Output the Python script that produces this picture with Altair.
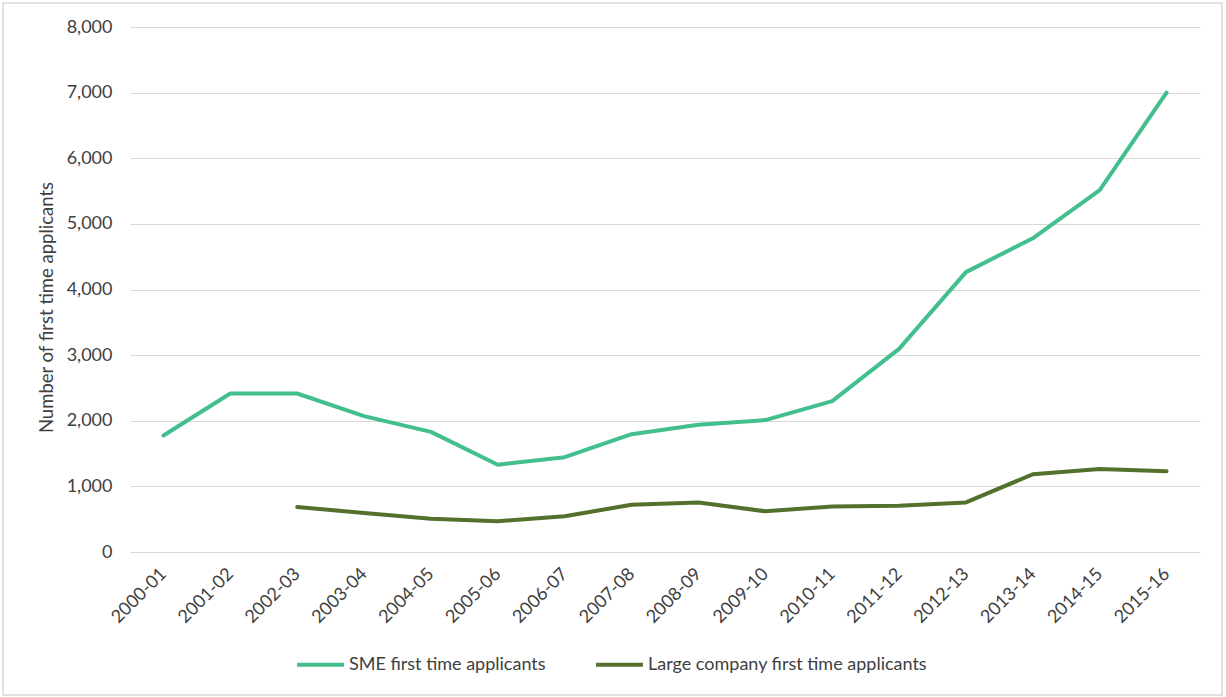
import altair as alt
import pandas as pd

# Financial years on the x axis
years = [
    "2000-01", "2001-02", "2002-03", "2003-04", "2004-05", "2005-06",
    "2006-07", "2007-08", "2008-09", "2009-10", "2010-11", "2011-12",
    "2012-13", "2013-14", "2014-15", "2015-16",
]

# First time applicants per year (None = no figure for that year)
sme_applicants = [1775, 2415, 2415, 2070, 1830, 1330, 1445, 1795,
                  1940, 2010, 2300, 3095, 4265, 4780, 5515, 7000]
large_applicants = [None, None, 685, 595, 505, 470, 545, 720,
                    755, 620, 695, 705, 755, 1185, 1265, 1230]

series_names = ["SME first time applicants", "Large company first time applicants"]
series_colors = ["#42BF8C", "#53702C"]
y_ticks = [0, 1000, 2000, 3000, 4000, 5000, 6000, 7000, 8000]

rows = []
for name, values in zip(series_names, [sme_applicants, large_applicants]):
    for yr, v in zip(years, values):
        if v is not None:
            rows.append({"year": yr, "series": name, "value": v})
df = pd.DataFrame(rows)

FONT = "Lato"
TEXT = "#404040"

lines = alt.Chart(df).mark_line(strokeWidth=4, strokeCap="round", strokeJoin="round").encode(
    x=alt.X(
        "year:O",
        sort=years,
        scale=alt.Scale(type="point", padding=0.5, domain=years),
        axis=alt.Axis(
            title=None, labelAngle=-45, labelAlign="right", labelBaseline="middle",
            labelPadding=19, ticks=False, domain=False, grid=False,
            labelFontSize=18, labelFont=FONT, labelColor=TEXT,
        ),
    ),
    y=alt.Y(
        "value:Q",
        scale=alt.Scale(domain=[0, 8000], nice=False),
        axis=alt.Axis(
            title="Number of first time applicants", values=y_ticks, format=",.0f",
            grid=True, gridColor="#D9D9D9", gridWidth=1, domain=False, ticks=False,
            labelPadding=18, labelFontSize=18, labelFont=FONT, labelColor=TEXT,
            titleFontSize=18.5, titleFont=FONT, titleColor=TEXT, titleFontWeight="normal",
            titleX=-84, titleY=280, titleAngle=-90, titleAlign="center",
            titleBaseline="middle",
        ),
    ),
    color=alt.Color(
        "series:N",
        scale=alt.Scale(domain=series_names, range=series_colors),
        legend=alt.Legend(
            title=None, orient="none", direction="horizontal",
            legendX=165, legendY=612,
            symbolType="stroke", symbolStrokeWidth=4, symbolSize=2200,
            labelFontSize=18, labelFont=FONT, labelColor=TEXT, labelLimit=0,
            labelOffset=3, columnPadding=42,
        ),
    ),
    order=alt.Order("year:O"),
)

# Thin outer frame around the whole figure
frame = alt.Chart(alt.Data(values=[{}])).mark_rect(
    fill=None, stroke="#D9D9D9", strokeWidth=1.5
).encode(
    x=alt.value(-127), x2=alt.value(1092),
    y=alt.value(-24), y2=alt.value(668),
)

chart = alt.layer(frame, lines).properties(
    width=1070, height=525,
    autosize=alt.AutoSizeParams(type="none"),
    padding={"left": 130, "top": 27, "right": 26, "bottom": 145},
    background="white",
).configure_view(stroke=None)

chart.save("out.html", embed_options={"renderer": "svg", "actions": False})
